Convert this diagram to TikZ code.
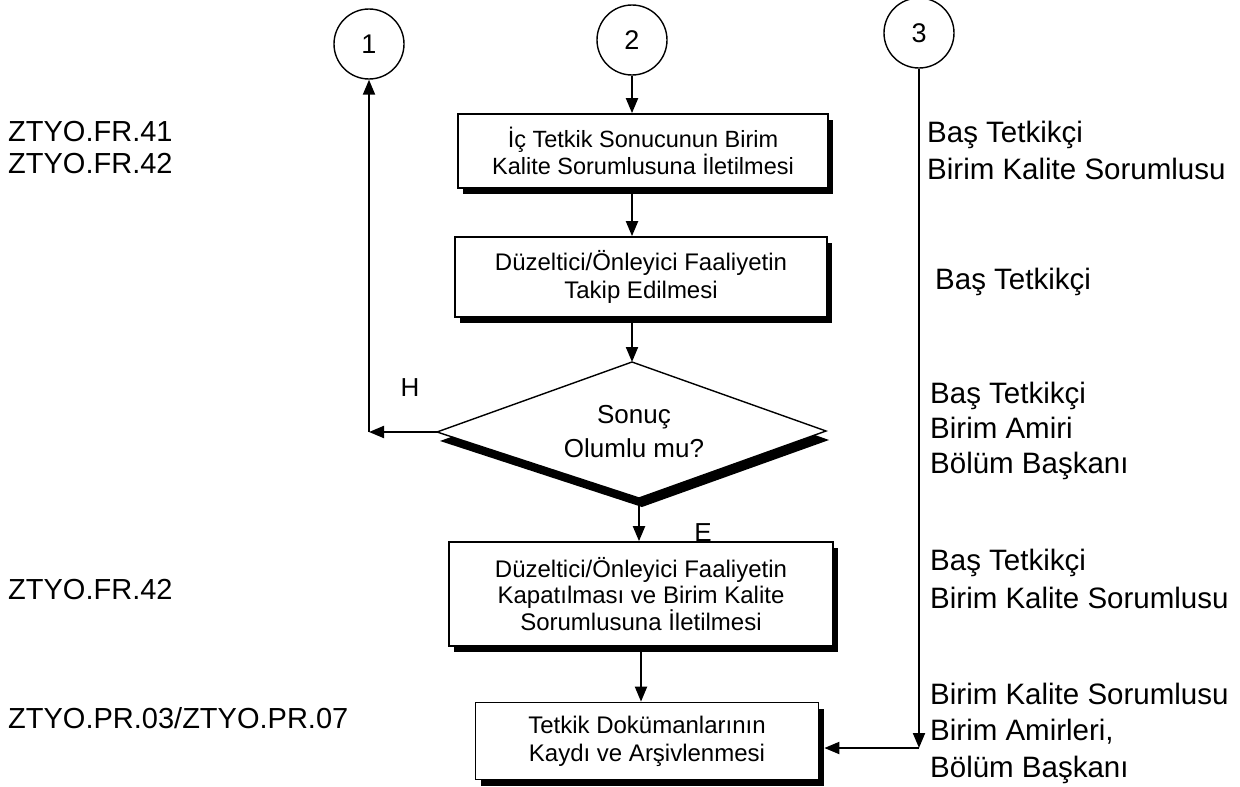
\documentclass[tikz,border=0pt]{standalone}
\usepackage{fontspec}
\setmainfont{Liberation Sans}
\usetikzlibrary{arrows.meta,shadows,calc}
\begin{document}
\begin{tikzpicture}[x=1pt,y=-1pt,
  arr/.style={line width=2pt,-{Triangle[length=15pt,width=12pt]}},
  proc/.style={draw,line width=1.7pt,fill=white,align=center,inner sep=0pt,
    drop shadow={shadow xshift=5pt,shadow yshift=-6pt,fill=black,opacity=1}},
  conn/.style={draw,circle,line width=1.4pt,minimum size=70pt,inner sep=0pt,
    font=\fontsize{27}{30}\selectfont},
  lbl/.style={align=left,anchor=west,inner sep=0pt,font=\fontsize{29.5}{35}\selectfont}
]
\useasboundingbox[fill=white] (0,0) rectangle (1240,787);

% connectors (circles)
\node[conn] (c1) at (369,44) {1};
\node[conn] (c2) at (632,40) {2};
\node[conn] (c3) at (919,33) {3};

% process boxes
\node[proc,minimum width=370pt,minimum height=74pt,font=\fontsize{23.5}{24}\selectfont] (b1) at (643,151)
  {İç Tetkik Sonucunun Birim\\Kalite Sorumlusuna İletilmesi};
\node[proc,minimum width=372pt,minimum height=80pt,font=\fontsize{24}{28}\selectfont] (b2) at (641,277)
  {Düzeltici/Önleyici Faaliyetin\\Takip Edilmesi};
\node[proc,minimum width=384pt,minimum height=104pt,font=\fontsize{24}{26.5}\selectfont] (b3) at (641,594)
  {Düzeltici/Önleyici Faaliyetin\\Kapatılması ve Birim Kalite\\Sorumlusuna İletilmesi};
\node[proc,minimum width=343pt,minimum height=77pt,font=\fontsize{24}{28}\selectfont] (b4) at (647,741)
  {Tetkik Dokümanlarının\\Kaydı ve Arşivlenmesi};

% decision diamond
\coordinate (dt) at (632,362);
\coordinate (dr) at (826,431);
\coordinate (db) at (639,498);
\coordinate (dl) at (437,432);
\fill[black] ($(dt)+(3,9)$) -- ($(dr)+(3,9)$) -- ($(db)+(3,9)$) -- ($(dl)+(3,9)$) -- cycle;
\filldraw[fill=white,draw=black,line width=1.4pt] (dt) -- (dr) -- (db) -- (dl) -- cycle;
\node[align=center,inner sep=0pt,font=\fontsize{26}{34}\selectfont] (dq) at (634,432) {Sonuç\\Olumlu mu?};

% flow arrows
\draw[arr] (c2.south) -- (c2.south |- b1.north);
\draw[arr] (b1.south -| c2.south) -- (c2.south |- b2.north);
\draw[arr] (b2.south -| dt) -- (dt);
\draw[arr] ($(db)+(0,8)$) -- (db |- b3.north);
\draw[arr] (b3.south) -- (b3.south |- b4.north);

% no branch
\coordinate (k1) at (c1.south |- dl);
\draw[arr] (dl) -- (k1);
\draw[arr] (k1) -- (c1.south);
\node[font=\fontsize{26}{30}\selectfont,inner sep=0pt] (h) at (410,388) {H};
\node[font=\fontsize{26}{30}\selectfont,inner sep=0pt] (e) at (703,533) {E};

% connector 3
\coordinate (k3) at (c3.south |- 0,748);
\draw[arr] (c3.south) -- (k3);
\draw[arr] (k3) -- ($(k3 -| b4.east)+(5,0)$);

% left labels
\node[lbl,font=\fontsize{29}{32}\selectfont] (l1) at (8,148) {ZTYO.FR.41\\ZTYO.FR.42};
\node[lbl,font=\fontsize{29}{35}\selectfont] (l2) at (8,590) {ZTYO.FR.42};
\node[lbl,font=\fontsize{29}{35}\selectfont] (l3) at (8,718) {ZTYO.PR.03/ZTYO.PR.07};

% right labels
\node[lbl,font=\fontsize{29.5}{37}\selectfont] (r1) at (927,150) {Baş Tetkikçi\\Birim Kalite Sorumlusu};
\node[lbl] (r2) at (935,282) {Baş Tetkikçi};
\node[lbl] (r3) at (930,431) {Baş Tetkikçi\\Birim Amiri\\Bölüm Başkanı};
\node[lbl,font=\fontsize{29.5}{38}\selectfont] (r4) at (930,579) {Baş Tetkikçi\\Birim Kalite Sorumlusu};
\node[lbl,font=\fontsize{29.5}{36.5}\selectfont] (r5) at (930,733) {Birim Kalite Sorumlusu\\Birim Amirleri,\\Bölüm Başkanı};
\end{tikzpicture}
\end{document}
